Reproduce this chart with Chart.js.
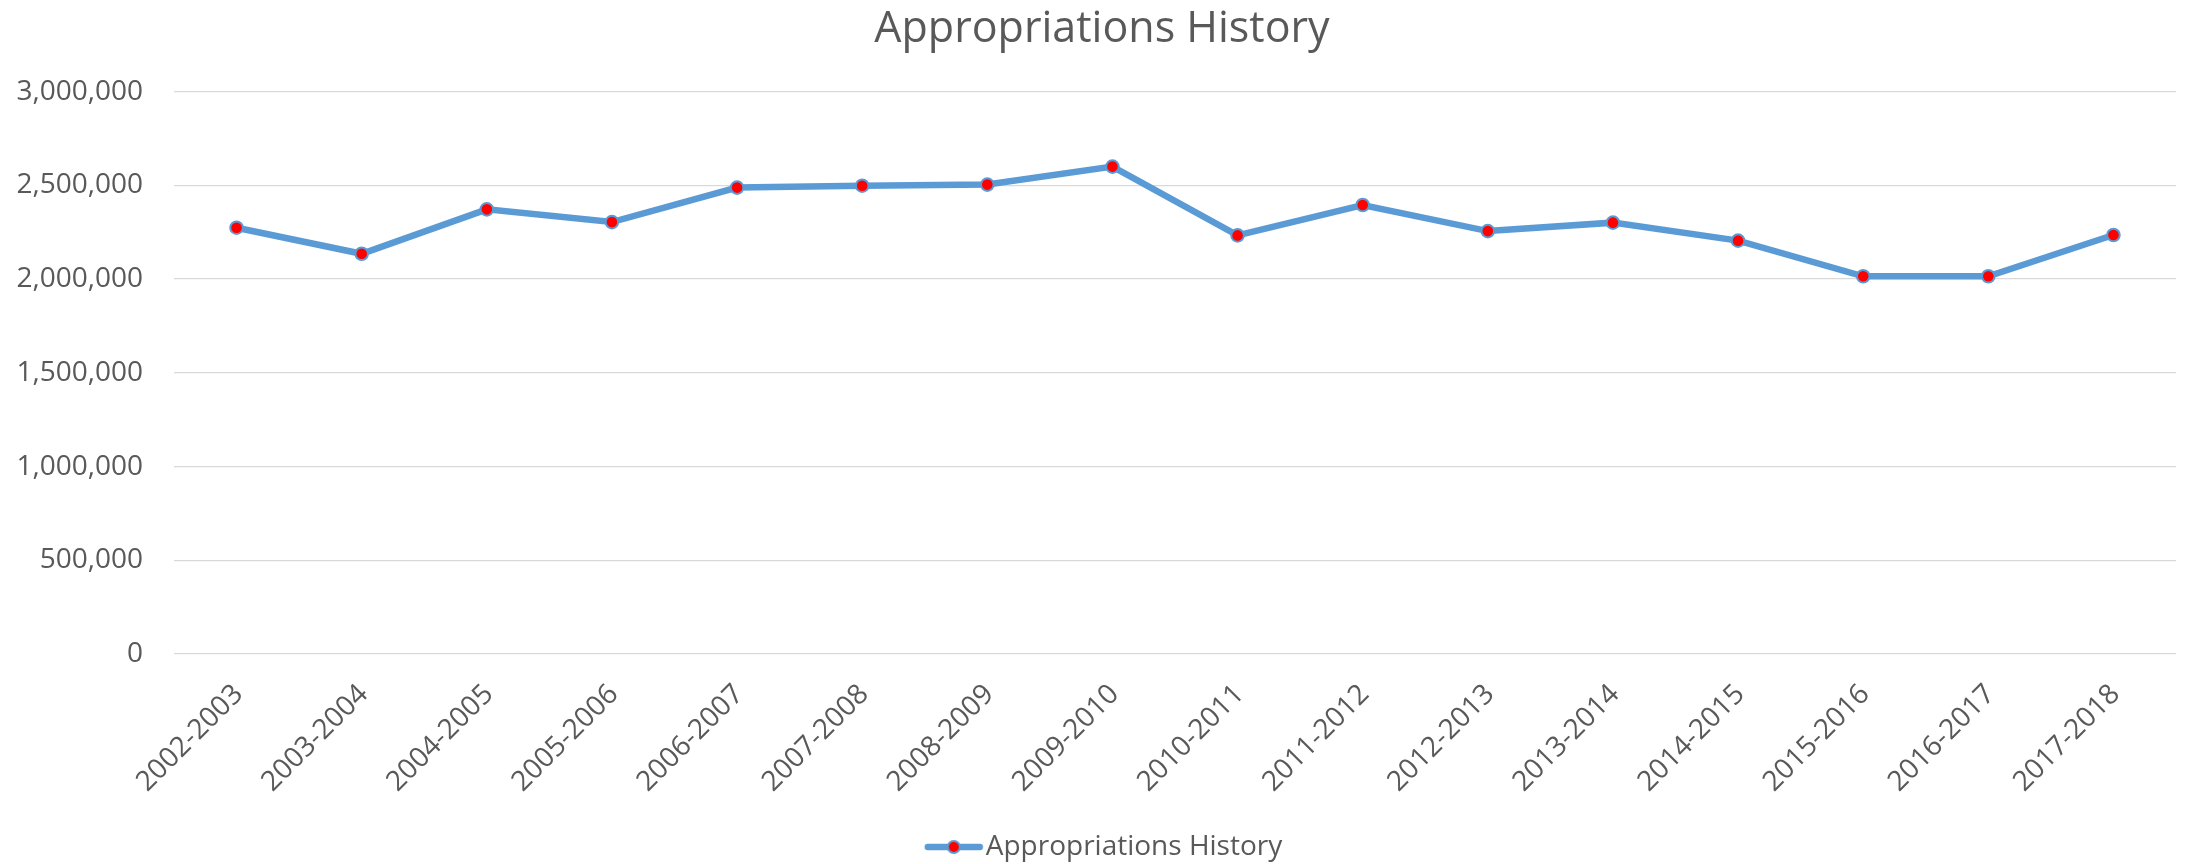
<!DOCTYPE html>
<html>
<head>
<meta charset="utf-8">
<script src="https://cdn.jsdelivr.net/npm/chart.js@4.4.1/dist/chart.umd.min.js"></script>
<style>
  html, body { margin: 0; padding: 0; background: #ffffff; }
  canvas { display: block; }
</style>
</head>
<body>
<canvas id="c" width="2190" height="864"></canvas>
<script>
// ---- Data ----
const categories = ["2002-2003","2003-2004","2004-2005","2005-2006","2006-2007","2007-2008","2008-2009","2009-2010","2010-2011","2011-2012","2012-2013","2013-2014","2014-2015","2015-2016","2016-2017","2017-2018"];
const appropriations = [2274000, 2135000, 2372000, 2304000, 2488000, 2498000, 2504000, 2600000, 2233000, 2395000, 2256000, 2301000, 2205000, 2015000, 2015000, 2235000];
const yTicks = [0, 500000, 1000000, 1500000, 2000000, 2500000, 3000000];
const titleText = "Appropriations History";
const seriesName = "Appropriations History";

const FONT = "'Open Sans', 'Noto Sans', 'DejaVu Sans', sans-serif";
const TEXT = "#595959";
const LINE = "#5B9BD5";

// legend symbol: line with a marker (drawn slightly right of the image centre)
const sym = document.createElement('canvas');
sym.width = 76; sym.height = 18;
(function(){
  const g = sym.getContext('2d');
  g.strokeStyle = LINE; g.lineWidth = 6.5; g.lineCap = 'round';
  g.beginPath(); g.moveTo(19, 9); g.lineTo(71, 9); g.stroke();
  g.beginPath(); g.arc(45, 9, 6, 0, Math.PI * 2);
  g.fillStyle = '#FF0000'; g.fill();
  g.lineWidth = 2; g.strokeStyle = LINE; g.stroke();
})();

// let the y tick labels use the full left margin (labels are clipped to the scale box)
const widenYLabelArea = {
  id: 'widenYLabelArea',
  afterLayout(chart) { chart.scales.y.left = 0; }
};

new Chart(document.getElementById('c'), {
  type: 'line',
  data: {
    labels: categories,
    datasets: [{
      label: seriesName,
      data: appropriations,
      borderColor: LINE,
      borderWidth: 6.5,
      backgroundColor: '#FF0000',
      pointBackgroundColor: '#FF0000',
      pointBorderColor: LINE,
      pointBorderWidth: 2,
      pointRadius: 6.3,
      tension: 0,
      fill: false
    }]
  },
  plugins: [widenYLabelArea],
  options: {
    responsive: false,
    animation: false,
    devicePixelRatio: 1,
    layout: { padding: { left: 28, right: 14, top: 0, bottom: -7 } },
    plugins: {
      tooltip: { enabled: false },
      title: {
        display: true,
        text: titleText,
        color: TEXT,
        font: { family: FONT, size: 43, weight: 'normal', lineHeight: 1.2 },
        padding: { top: 4, bottom: 36 }
      },
      legend: {
        display: true,
        position: 'bottom',
        labels: {
          color: TEXT,
          font: { family: FONT, size: 28 },
          usePointStyle: true,
          pointStyleWidth: 50,
          padding: 0,
          generateLabels: (chart) => [{
            text: seriesName,
            pointStyle: sym,
            fontColor: TEXT,
            datasetIndex: 0,
            hidden: false,
            lineWidth: 0,
            strokeStyle: 'transparent',
            fillStyle: 'transparent'
          }]
        }
      }
    },
    scales: {
      x: {
        offset: true,
        grid: { display: false, drawTicks: false },
        border: { display: false },
        ticks: {
          color: TEXT,
          font: { family: FONT, size: 28 },
          autoSkip: false,
          maxRotation: 45,
          minRotation: 45,
          padding: 24,
          labelOffset: 2
        },
        afterFit: (s) => { s.height = 179; }
      },
      y: {
        min: 0,
        max: 3000000,
        afterBuildTicks: (s) => { s.ticks = yTicks.map(v => ({ value: v })); },
        grid: { color: '#D9D9D9', lineWidth: 1.3, drawTicks: false },
        border: { display: false },
        ticks: {
          color: TEXT,
          font: { family: FONT, size: 28 },
          padding: 31,
          callback: (v) => Number(v).toLocaleString('en-US')
        },
        afterFit: (s) => { s.width = 146; }
      }
    }
  }
});
</script>
</body>
</html>
